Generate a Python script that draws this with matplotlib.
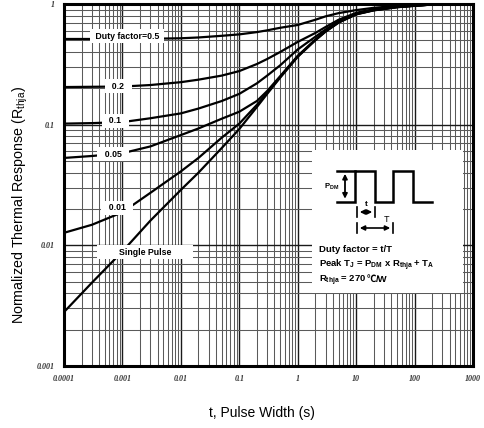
import matplotlib
matplotlib.use('Agg')
import matplotlib.pyplot as plt
from matplotlib.patches import Rectangle

plt.rcParams['font.family'] = ['Liberation Sans', 'DejaVu Sans']
plt.rcParams['mathtext.default'] = 'regular'

# pulse width (s)
t = [1e-4, 3e-4, 1e-3, 3e-3, 1e-2, 2e-2, 5e-2, 0.1, 0.2, 0.3, 0.5, 1, 2, 3, 5, 10,
     20, 50, 100, 200, 400, 1000]

# normalized thermal response for each duty factor
r_d50 = [0.513, 0.513, 0.513, 0.515, 0.52, 0.528, 0.545, 0.56, 0.585, 0.605, 0.635, 0.67,
         0.74, 0.79, 0.84, 0.89, 0.93, 0.965, 0.98, 0.995, 1.0, 1.0]
r_d20 = [0.205, 0.206, 0.207, 0.213, 0.225, 0.236, 0.255, 0.278, 0.318, 0.35, 0.40, 0.485,
         0.575, 0.645, 0.74, 0.845, 0.905, 0.952, 0.973, 0.992, 1.0, 1.0]
r_d10 = [0.102, 0.103, 0.105, 0.113, 0.124, 0.136, 0.157, 0.18, 0.22, 0.255, 0.31, 0.42,
         0.535, 0.615, 0.72, 0.835, 0.895, 0.947, 0.97, 0.99, 1.0, 1.0]
r_d05 = [0.053, 0.055, 0.058, 0.066, 0.082, 0.093, 0.112, 0.128, 0.157, 0.19, 0.252, 0.372,
         0.507, 0.597, 0.707, 0.826, 0.89, 0.944, 0.968, 0.99, 1.0, 1.0]
r_d01 = [0.0127, 0.0148, 0.0188, 0.0272, 0.041, 0.053, 0.078, 0.102, 0.146, 0.184, 0.248, 0.368,
         0.503, 0.593, 0.703, 0.823, 0.888, 0.942, 0.967, 0.99, 1.0, 1.0]
r_single = [0.0028, 0.0049, 0.0089, 0.016, 0.0288, 0.040, 0.064, 0.092, 0.14, 0.18, 0.245, 0.365,
            0.50, 0.59, 0.70, 0.82, 0.885, 0.94, 0.965, 0.99, 1.0, 1.0]

curves = [r_d50, r_d20, r_d10, r_d05, r_d01, r_single]

# curve labels and where they sit (t, r)
labels = [' Duty factor=0.5 ', '  0.2  ', '  0.1  ', '  0.05  ', '  0.01  ', '        Single Pulse        ']
label_t = [0.0012, 0.00084, 0.00075, 0.00069, 0.00081, 0.00243]
label_r = [0.54, 0.208, 0.108, 0.057, 0.0205, 0.0088]

xticks = [1e-4, 1e-3, 1e-2, 1e-1, 1, 10, 100, 1000]
xticklabels = ['0.0001', '0.001', '0.01', '0.1', '1', '10', '100', '1000']
yticks = [1e-3, 1e-2, 1e-1, 1]
yticklabels = ['0.001', '0.01', '0.1', '1']

fig = plt.figure(figsize=(4.84, 4.28), dpi=100)
ax = fig.add_axes([64 / 484, 62 / 428, 409 / 484, 362 / 428])
ax.set_xscale('log')
ax.set_yscale('log')
ax.set_xlim(1e-4, 1e3)
ax.set_ylim(1e-3, 1)

ax.grid(which='major', color='#1a1a1a', lw=1.0)
ax.grid(which='minor', color='#5a5a5a', lw=0.75)
ax.set_axisbelow(True)

for r in curves:
    ax.plot(t, r, color='black', lw=1.6, zorder=3, solid_capstyle='butt')

for s, lt, lr in zip(labels, label_t, label_r):
    ax.text(lt, lr, s, ha='center', va='center', fontsize=6.3, fontweight='bold',
            zorder=4, bbox=dict(boxstyle='square,pad=0.3', fc='white', ec='none'))

ax.set_xticks(xticks)
ax.set_xticklabels(xticklabels)
ax.set_yticks(yticks)
ax.set_yticklabels(yticklabels)
ax.tick_params(which='both', length=0, pad=6.5, labelsize=5.8, colors='#333333')
for lab in ax.get_xticklabels() + ax.get_yticklabels():
    lab.set_family('Liberation Serif')
    lab.set_style('italic')
    lab.set_weight('bold')

for sp in ax.spines.values():
    sp.set_linewidth(2.2)
    sp.set_zorder(10)


# inset: pulse train and formulas, placed in axes fractions
def fx(px):
    return (px - 64) / 409


def fy(py):
    return (366 - py) / 362


tr = ax.transAxes
ax.add_patch(Rectangle((fx(312), fy(293)), fx(463) - fx(312), fy(150) - fy(293),
                       transform=tr, fc='white', ec='none', zorder=5))

base, top = fy(201.5), fy(171)
wx = [fx(v) for v in (337, 355, 355, 375, 375, 393, 393, 413, 413, 432)]
wy = [base, base, top, top, base, base, top, top, base, base]
ax.plot(wx, wy, transform=tr, color='black', lw=1.8, zorder=6, solid_joinstyle='miter')
ax.plot([fx(337), fx(355)], [top, top], transform=tr, color='black', lw=1.8, zorder=6)
ax.annotate('', xy=(fx(345), top), xytext=(fx(345), base), xycoords=tr,
            arrowprops=dict(arrowstyle='<|-|>', color='black', lw=1.3, mutation_scale=7), zorder=6)
ax.text(fx(339), fy(187), 'P$_{DM}$', transform=tr, ha='right', va='center',
        fontsize=5.5, fontweight='bold', zorder=6)

# t and T dimension marks
for x0, x1, yy in ((357, 375, 212), (357, 393, 228)):
    ax.annotate('', xy=(fx(x1), fy(yy)), xytext=(fx(x0), fy(yy)), xycoords=tr,
                arrowprops=dict(arrowstyle='<|-|>', color='black', lw=1.2, mutation_scale=7), zorder=6)
    for xx in (x0, x1):
        ax.plot([fx(xx), fx(xx)], [fy(yy - 5), fy(yy + 5)], transform=tr,
                color='black', lw=1.2, zorder=6)
ax.text(fx(366), fy(204), 't', transform=tr, ha='center', va='center',
        fontsize=6, fontweight='bold', zorder=6)
ax.text(fx(386), fy(220), 'T', transform=tr, ha='center', va='center',
        fontsize=6.5, zorder=6)

note_kw = dict(transform=tr, ha='left', va='baseline', fontsize=6.8, fontweight='bold', zorder=6)
ax.text(fx(319), fy(252.5), 'Duty factor = t/T', **note_kw)
ax.text(fx(319), fy(267.5), 'Peak T$_J$ = P$_{DM}$ x R$_{thja}$ + T$_A$', **note_kw)
last = ax.text(fx(319), fy(282), 'R$_{thja}$ = 270', **note_kw)

fig.text(262 / 484, 1 - 413 / 428, 't, Pulse Width (s)', ha='center', va='center', fontsize=10)
fig.text(20 / 484, 1 - 205 / 428, 'Normalized Thermal Response (R$_{thja}$)',
         ha='center', va='center', rotation=90, fontsize=10.3)

# degree sign from a CJK face, then the unit after it
fig.canvas.draw()
x_end = tr.inverted().transform((last.get_window_extent().x1, 0))[0]
deg = ax.text(x_end, fy(282), '\u2103', **note_kw)
deg.set_family(['Noto Sans CJK SC', 'DejaVu Sans'])
fig.canvas.draw()
x_end = tr.inverted().transform((deg.get_window_extent().x1, 0))[0]
ax.text(x_end, fy(282), '/W', **note_kw)

fig.savefig('out.png', dpi=100)
